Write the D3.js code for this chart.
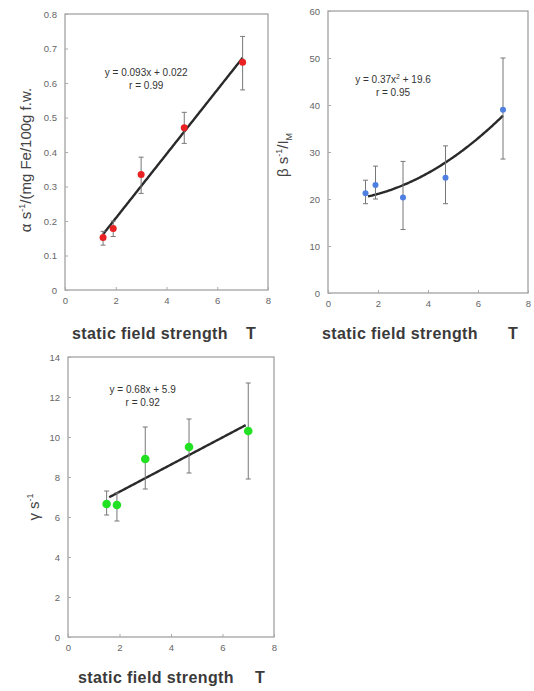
<!DOCTYPE html>
<html>
<head>
<meta charset="utf-8">
<script src="https://cdn.jsdelivr.net/npm/d3@7"></script>
<style>
body { margin: 0; background: #fff; }
svg { display: block; }
</style>
</head>
<body>
<svg width="534" height="691"></svg>
<script>
// field strengths (T), same for all three panels
var fieldT = [1.5, 1.9, 3.0, 4.7, 7.0];

// alpha panel
var alphaVal = [0.152, 0.178, 0.335, 0.47, 0.66];
var alphaLo = [0.13, 0.155, 0.28, 0.425, 0.58];
var alphaHi = [0.17, 0.20, 0.385, 0.515, 0.735];
var alphaTicks = [0, 0.1, 0.2, 0.3, 0.4, 0.5, 0.6, 0.7, 0.8];

// beta panel
var betaVal = [21.2, 23.0, 20.3, 24.5, 39.0];
var betaLo = [19.0, 20.0, 13.5, 19.0, 28.5];
var betaHi = [24.0, 27.0, 28.0, 31.3, 50.0];
var betaTicks = [0, 10, 20, 30, 40, 50, 60];

// gamma panel
var gammaVal = [6.65, 6.6, 8.9, 9.5, 10.3];
var gammaLo = [6.1, 5.8, 7.4, 8.2, 7.9];
var gammaHi = [7.3, 7.2, 10.5, 10.9, 12.7];
var gammaTicks = [0, 2, 4, 6, 8, 10, 12, 14];

var xTicks = [0, 2, 4, 6, 8];

var svg = d3.select("svg");
var FONT = "Liberation Sans, Arial";

function panel(o) {
  var x = d3.scaleLinear().domain([0, 8]).range([o.left, o.right]);
  var y = d3.scaleLinear().domain([0, o.ymax]).range([o.bottom, o.top]);
  var g = svg.append("g");

  // frame
  g.append("rect")
    .attr("x", o.left).attr("y", o.top)
    .attr("width", o.right - o.left).attr("height", o.bottom - o.top)
    .attr("fill", "none").attr("stroke", "#9a9a9a").attr("stroke-width", 1.2);

  var ax = g.append("g")
    .attr("transform", "translate(0," + o.bottom + ")")
    .call(d3.axisBottom(x).tickValues(xTicks).tickSizeInner(-3).tickSizeOuter(0).tickPadding(7));
  var ay = g.append("g")
    .attr("transform", "translate(" + o.left + ",0)")
    .call(d3.axisLeft(y).tickValues(o.ticks).tickSizeInner(-3).tickSizeOuter(0).tickPadding(8)
      .tickFormat(function (d) { return d3.format("~g")(d); }));
  [ax, ay].forEach(function (a) {
    a.select(".domain").remove();
    a.selectAll("line").attr("stroke", "#aaa");
    a.selectAll("text").attr("fill", "#666").style("font-family", FONT).style("font-size", "9.5px");
  });

  // fit curve
  var fx = d3.range(o.x0, o.x1 + 0.001, 0.05);
  g.append("path")
    .datum(fx)
    .attr("fill", "none").attr("stroke", "#2a2a2a").attr("stroke-width", 2.4)
    .attr("d", d3.line().x(function (d) { return x(d); }).y(function (d) { return y(o.fit(d)); }));

  // error bars
  fieldT.forEach(function (t, i) {
    var cx = x(t);
    g.append("line").attr("x1", cx).attr("x2", cx).attr("y1", y(o.lo[i])).attr("y2", y(o.hi[i]))
      .attr("stroke", "#777").attr("stroke-width", 1);
    [o.lo[i], o.hi[i]].forEach(function (v) {
      g.append("line").attr("x1", cx - 2.5).attr("x2", cx + 2.5).attr("y1", y(v)).attr("y2", y(v))
        .attr("stroke", "#777").attr("stroke-width", 1);
    });
  });

  g.selectAll(".pt").data(o.vals).enter().append("circle")
    .attr("cx", function (d, i) { return x(fieldT[i]); })
    .attr("cy", function (d) { return y(d); })
    .attr("r", o.r)
    .attr("fill", o.color);

  // equation
  var eq = g.append("text")
    .attr("x", x(o.eqx)).attr("y", y(o.eqy))
    .attr("text-anchor", "middle")
    .style("font-family", FONT).style("font-size", "10px").attr("fill", "#333");
  eq.append("tspan").text(o.eq1);
  if (o.eqSup) {
    eq.append("tspan").attr("dy", -4).style("font-size", "7px").text(o.eqSup);
    eq.append("tspan").attr("dy", 4).text(o.eq1b);
  }
  g.append("text")
    .attr("x", x(o.eqx)).attr("y", y(o.eqy) + 13)
    .attr("text-anchor", "middle")
    .style("font-family", FONT).style("font-size", "10px").attr("fill", "#333")
    .text(o.eq2);

  // x title
  g.append("text")
    .attr("x", o.xtx).attr("y", o.xty)
    .style("font-family", FONT).style("font-size", "16px").style("font-weight", "bold")
    .style("letter-spacing", "0.4px").attr("fill", "#3a3a3a")
    .text("static field strength");
  g.append("text")
    .attr("x", o.tx).attr("y", o.xty)
    .style("font-family", FONT).style("font-size", "16px").style("font-weight", "bold")
    .attr("fill", "#3a3a3a")
    .text("T");

  // y title
  var yl = g.append("text")
    .attr("transform", "translate(" + o.ytx + "," + o.yty + ") rotate(-90)")
    .attr("text-anchor", "middle")
    .style("font-family", FONT).style("font-size", o.yfs + "px").attr("fill", "#444");
  o.ylabel.forEach(function (p) {
    var s = yl.append("tspan").text(p.t);
    if (p.sup) s.attr("dy", -6).style("font-size", "9px");
    if (p.sub) s.attr("dy", 4).style("font-size", "9px");
    if (p.back) s.attr("dy", p.back);
  });
}

panel({
  left: 65, right: 268, top: 14, bottom: 290, ymax: 0.8, ticks: alphaTicks,
  vals: alphaVal, lo: alphaLo, hi: alphaHi, color: "#e82222", r: 3.5,
  x0: 1.5, x1: 7.0, fit: function (t) { return 0.093 * t + 0.022; },
  eqx: 3.2, eqy: 0.62, eq1: "y = 0.093x + 0.022", eq2: "r = 0.99",
  xtx: 72, xty: 339, tx: 246, ytx: 31, yty: 160, yfs: 15,
  ylabel: [{ t: "α  s" }, { t: "-1", sup: true }, { t: "/(mg Fe/100g f.w.", back: 6 }]
});

panel({
  left: 328, right: 528, top: 11, bottom: 293, ymax: 60, ticks: betaTicks,
  vals: betaVal, lo: betaLo, hi: betaHi, color: "#4f7fe0", r: 3,
  x0: 1.6, x1: 7.0, fit: function (t) { return 0.37 * t * t + 19.6; },
  eqx: 2.6, eqy: 44.7, eq1: "y = 0.37x", eqSup: "2", eq1b: " + 19.6", eq2: "r = 0.95",
  xtx: 322, xty: 339, tx: 508, ytx: 288, yty: 155, yfs: 15,
  ylabel: [{ t: "β  s" }, { t: "-1", sup: true }, { t: "/I", back: 6 }, { t: "M", sub: true }]
});

panel({
  left: 68, right: 274, top: 357, bottom: 637, ymax: 14, ticks: gammaTicks,
  vals: gammaVal, lo: gammaLo, hi: gammaHi, color: "#22e022", r: 4.3,
  x0: 1.6, x1: 6.9, fit: function (t) { return 0.68 * t + 5.9; },
  eqx: 2.9, eqy: 12.2, eq1: "y = 0.68x + 5.9", eq2: "r = 0.92",
  xtx: 78, xty: 683, tx: 255, ytx: 39, yty: 507, yfs: 15,
  ylabel: [{ t: "γ  s" }, { t: "-1", sup: true }]
});
</script>
</body>
</html>
